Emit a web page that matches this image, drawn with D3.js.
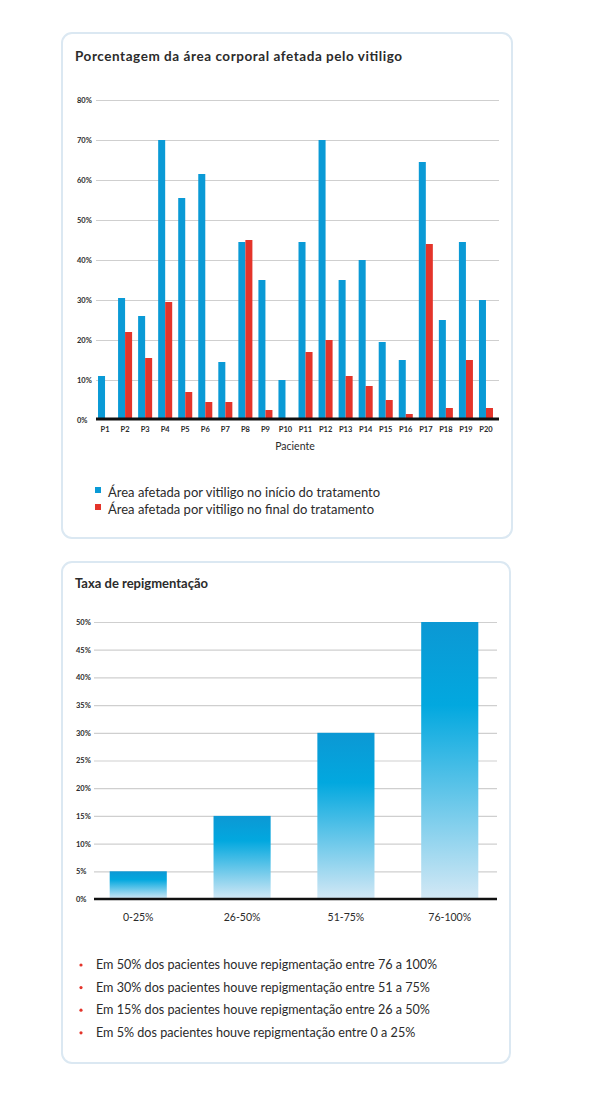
<!DOCTYPE html>
<html><head><meta charset="utf-8">
<script src="https://cdn.jsdelivr.net/npm/d3@7/dist/d3.min.js"></script>
<style>html,body{margin:0;padding:0;background:#fff;}svg{display:block;font-family:Lato,"Open Sans",sans-serif;}svg text{font-family:Lato,"Open Sans",sans-serif;}</style>
</head><body>
<script>
const patients = ["P1","P2","P3","P4","P5","P6","P7","P8","P9","P10","P11","P12","P13","P14","P15","P16","P17","P18","P19","P20"];
const inicio = [11,30.5,26,70,55.5,61.5,14.5,44.5,35,10,44.5,70,35,40,19.5,15,64.5,25,44.5,30];
const final = [0,22,15.5,29.5,7,4.5,4.5,45,2.5,0,17,20,11,8.5,5,1.5,44,3,15,3];
const topTicks = [0,10,20,30,40,50,60,70,80];
const seriesNames = ["Área afetada por vitiligo no início do tratamento","Área afetada por vitiligo no final do tratamento"];

const ranges = ["0-25%","26-50%","51-75%","76-100%"];
const rates = [5,15,30,50];
const botTicks = [0,5,10,15,20,25,30,35,40,45,50];
const notes = ["Em 50% dos pacientes houve repigmentação entre 76 a 100%","Em 30% dos pacientes houve repigmentação entre 51 a 75%","Em 15% dos pacientes houve repigmentação entre 26 a 50%","Em 5% dos pacientes houve repigmentação entre 0 a 25%"];

const BLUE="#0a9ad6", RED="#e4342a", TXT="#2b2b2b", GRID="#cfcfcf";
const FONT='Lato, "Open Sans", sans-serif';
const svg = d3.select("body").append("svg").attr("width",612).attr("height",1096);

const defs = svg.append("defs");
const g = defs.append("linearGradient").attr("id","bg").attr("x1",0).attr("y1",0).attr("x2",0).attr("y2",1);
g.append("stop").attr("offset","0%").attr("stop-color","#0c98d4");
g.append("stop").attr("offset","30%").attr("stop-color","#02a8df");
g.append("stop").attr("offset","100%").attr("stop-color","#d3e8f5");

// panels
svg.append("rect").attr("x",62).attr("y",33).attr("width",450).attr("height",505).attr("rx",10)
  .attr("fill","#fff").attr("stroke","#dbe8f2").attr("stroke-width",2);
svg.append("rect").attr("x",62).attr("y",562).attr("width",448).attr("height",501).attr("rx",10)
  .attr("fill","#fff").attr("stroke","#dbe8f2").attr("stroke-width",2);

// ---------- Top chart ----------
svg.append("text").attr("x",75).attr("y",61).attr("font-size",13.5).attr("font-weight",700).attr("fill",TXT)
  .attr("textLength",327).attr("lengthAdjust","spacing")
  .text("Porcentagem da área corporal afetada pelo vitiligo");

const x = d3.scaleBand().domain(patients).range([91,500]).paddingInner(0.3).paddingOuter(0.35);
const xs = d3.scaleBand().domain([0,1]).range([0,x.bandwidth()]);
const y = d3.scaleLinear().domain([0,80]).range([420,100]);

const gy = svg.append("g").attr("transform","translate(96,0)")
  .call(d3.axisLeft(y).tickValues(topTicks).tickFormat(d=>d+"%").tickSize(-403).tickPadding(4));
gy.attr("font-family",FONT);
gy.select(".domain").remove();
gy.selectAll(".tick line").attr("stroke",GRID).attr("stroke-width",1.2).filter(d=>d===0).remove();
gy.selectAll(".tick text").attr("font-size",7.5).attr("font-weight",700).attr("fill",TXT).attr("x",-19).attr("text-anchor","start");

const grp = svg.append("g").selectAll("g").data(patients).join("g").attr("transform",d=>`translate(${x(d)},0)`);
grp.append("rect").attr("x",xs(0)).attr("width",xs.bandwidth()).attr("y",(d,i)=>y(inicio[i])).attr("height",(d,i)=>y(0)-y(inicio[i])).attr("fill",BLUE);
grp.append("rect").attr("x",xs(1)).attr("width",xs.bandwidth()).attr("y",(d,i)=>y(final[i])).attr("height",(d,i)=>y(0)-y(final[i])).attr("fill",RED);

svg.append("line").attr("x1",96).attr("x2",499).attr("y1",y(0)-1).attr("y2",y(0)-1).attr("stroke","#111").attr("stroke-width",3);

const gx = svg.append("g").attr("transform",`translate(0,${y(0)})`).call(d3.axisBottom(x).tickSize(0).tickPadding(7));
gx.attr("font-family",FONT);
gx.select(".domain").remove();
gx.selectAll(".tick text").attr("font-size",7.5).attr("font-weight",700).attr("fill",TXT);

svg.append("text").attr("x",295).attr("y",450).attr("text-anchor","middle").attr("font-size",10.5).attr("fill",TXT).text("Paciente");

const leg = svg.append("g").selectAll("g").data(seriesNames).join("g").attr("transform",(d,i)=>`translate(95,${487+i*17})`);
leg.append("rect").attr("width",6).attr("height",6).attr("y",0).attr("fill",(d,i)=>i?RED:BLUE);
leg.append("text").attr("x",13).attr("y",9.5).attr("font-size",13).attr("fill",TXT).text(d=>d);

// ---------- Bottom chart ----------
svg.append("text").attr("x",75).attr("y",588).attr("font-size",13).attr("font-weight",700).attr("fill",TXT)
  .text("Taxa de repigmentação");

const x2 = d3.scaleBand().domain(ranges).range([91,497]).paddingInner(0.45).paddingOuter(0.18);
const y2 = d3.scaleLinear().domain([0,50]).range([899,622]);

const gy2 = svg.append("g").attr("transform","translate(94,0)")
  .call(d3.axisLeft(y2).tickValues(botTicks).tickFormat(d=>d+"%").tickSize(-403).tickPadding(4));
gy2.attr("font-family",FONT);
gy2.select(".domain").remove();
gy2.selectAll(".tick line").attr("stroke",GRID).attr("stroke-width",1.2).filter(d=>d===0).remove();
gy2.selectAll(".tick text").attr("font-size",7.5).attr("font-weight",700).attr("fill",TXT).attr("x",-18).attr("text-anchor","start");

svg.append("g").selectAll("rect").data(ranges).join("rect")
  .attr("x",d=>x2(d)).attr("width",x2.bandwidth()).attr("y",(d,i)=>y2(rates[i])).attr("height",(d,i)=>y2(0)-y2(rates[i]))
  .attr("fill","url(#bg)");

svg.append("line").attr("x1",94).attr("x2",497).attr("y1",y2(0)).attr("y2",y2(0)).attr("stroke","#111").attr("stroke-width",2.5);

const gx2 = svg.append("g").attr("transform",`translate(0,${y2(0)})`).call(d3.axisBottom(x2).tickSize(0).tickPadding(15));
gx2.attr("font-family",FONT);
gx2.select(".domain").remove();
gx2.selectAll(".tick text").attr("font-size",10.5).attr("fill",TXT);

const nl = svg.append("g").selectAll("g").data(notes).join("g").attr("transform",(d,i)=>`translate(0,${969+i*22.6})`);
nl.append("circle").attr("cx",81).attr("cy",-4).attr("r",1.6).attr("fill",RED);
nl.append("text").attr("x",96).attr("y",0).attr("font-size",12.6).attr("fill",TXT).text(d=>d);
</script>
</body></html>
